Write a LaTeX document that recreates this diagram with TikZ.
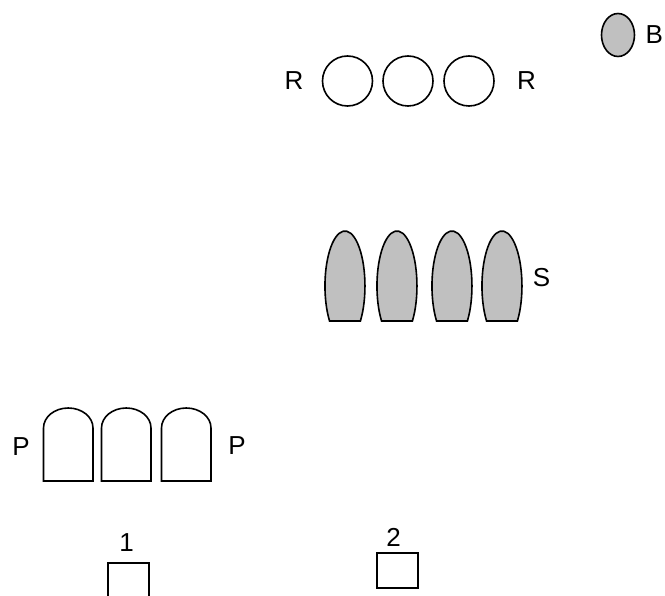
\documentclass[tikz,border=0pt]{standalone}
\usepackage{fontspec}
\setmainfont{Liberation Sans}
\usetikzlibrary{positioning,shapes.geometric}
\definecolor{shade}{HTML}{C0C0C0}

\begin{document}
\begin{tikzpicture}[
    x=1pt, y=-1pt,
    ring/.style={circle, draw, line width=1.6pt, minimum size=50pt, inner sep=0pt},
    blob/.style={ellipse, draw, line width=1.6pt, fill=shade, minimum width=33pt, minimum height=43pt, inner sep=0pt},
    % bullet and arch outlines are drawn as plain paths
    bullet/.style={draw, line width=1.6pt, fill=shade},
    arch/.style={draw, line width=1.6pt},
    cell/.style={rectangle, draw, line width=1.6pt, minimum width=41pt, minimum height=35pt, inner sep=0pt},
    lbl/.style={inner sep=0pt, font=\fontsize{26}{30}\selectfont}
]
    \useasboundingbox (0,0) rectangle (665,596);

    \node[ring] (ringa) at (347.5,81) {};
    \node[ring] (ringb) at (408,81) {};
    \node[ring] (ringc) at (469,81) {};
    \node[lbl, left=18pt of ringa] (rleft) {R};
    \node[lbl, right=22pt of ringc] (rright) {R};

    \node[blob] (blob) at (618,35) {};
    \node[lbl, right=10pt of blob] (blabel) {B};

    \draw[bullet] (360.4,321) arc[start angle=-39.5, end angle=219.5, x radius=20pt, y radius=55pt] -- cycle;
    \draw[bullet] (412.4,321) arc[start angle=-39.5, end angle=219.5, x radius=20pt, y radius=55pt] -- cycle;
    \draw[bullet] (467.4,321) arc[start angle=-39.5, end angle=219.5, x radius=20pt, y radius=55pt] -- cycle;
    \draw[bullet] (517.4,321) arc[start angle=-39.5, end angle=219.5, x radius=20pt, y radius=55pt] -- cycle;
    \node[lbl] (slabel) at (541.5,277.5) {S};

    \draw[arch] (43.5,481) -- (43.5,428) arc[start angle=180, end angle=0, x radius=24.75pt, y radius=20pt] -- (93,481) -- cycle;
    \draw[arch] (101.5,481) -- (101.5,428) arc[start angle=180, end angle=0, x radius=24.75pt, y radius=20pt] -- (151,481) -- cycle;
    \draw[arch] (161.5,481) -- (161.5,428) arc[start angle=180, end angle=0, x radius=24.75pt, y radius=20pt] -- (211,481) -- cycle;
    \node[lbl] (pleft) at (21,447) {P};
    \node[lbl] (pright) at (237,446) {P};

    \node[cell] (boxa) at (128.5,580.5) {};
    \node[cell] (boxb) at (397.5,570.5) {};
    \node[lbl, above=11pt of boxa, xshift=-2pt] (onelabel) {1};
    \node[lbl, above=6pt of boxb, xshift=-4pt] (twolabel) {2};
\end{tikzpicture}
\end{document}
